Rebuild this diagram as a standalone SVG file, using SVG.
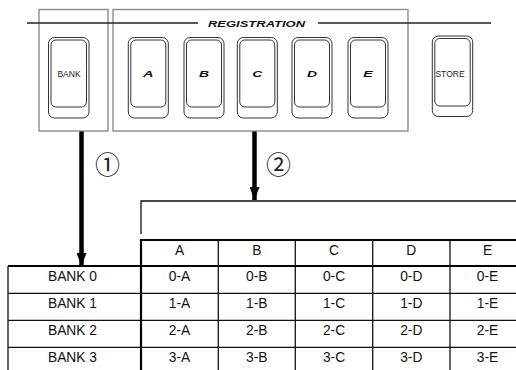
<svg xmlns="http://www.w3.org/2000/svg" width="516" height="370" viewBox="0 0 516 370">
<style>
  .panel{fill:none;stroke:#8c8c8c;stroke-width:1.4}
  .btn-o{fill:#fff;stroke:#333;stroke-width:1}
  .btn-i{fill:none;stroke:#333;stroke-width:1}
  .lbl{font-family:"Liberation Sans",Arial,sans-serif;font-size:8.5px;fill:#222;text-anchor:middle}
  .key{font-family:"Liberation Sans",Arial,sans-serif;font-size:9px;font-weight:bold;font-style:italic;fill:#111;text-anchor:middle}
  .cell{font-family:"Liberation Sans",Arial,sans-serif;font-size:13.8px;fill:#111;text-anchor:middle}
  .thin{stroke:#111;stroke-width:1.3;fill:none}
  .thick{stroke:#000;stroke-width:2.2;fill:none}
  .num{font-family:"Noto Sans CJK JP","DejaVu Sans",sans-serif;font-size:25px;fill:#222;text-anchor:middle}
</style>
<defs>
  <marker id="ah" viewBox="0 0 13 10" refX="13" refY="5" markerUnits="userSpaceOnUse" markerWidth="13" markerHeight="10" orient="auto">
    <path d="M0,0 L13,5 L0,10 Z" fill="#000"/>
  </marker>
</defs>

<g id="panels">
  <rect class="panel" x="39" y="9.5" width="69" height="121.5"/>
  <rect class="panel" x="113" y="9.5" width="295" height="121.5"/>
  <line x1="27" y1="23" x2="198" y2="23" stroke="#222" stroke-width="1.3"/>
  <line x1="318" y1="23" x2="491" y2="23" stroke="#222" stroke-width="1.3"/>
  <text x="256.5" y="26.5" font-family="'Liberation Sans',Arial,sans-serif" font-size="8.5" font-weight="bold" font-style="italic" fill="#111" text-anchor="middle" textLength="97" lengthAdjust="spacingAndGlyphs">REGISTRATION</text>
</g>

<g id="btn-bank">
  <rect class="btn-o" x="48.5" y="37.5" width="40.5" height="80.5" rx="6"/>
  <rect class="btn-i" x="51" y="40" width="35.5" height="67" rx="5"/>
  <text class="lbl" x="69" y="77">BANK</text>
</g>
<g id="btn-a">
  <rect class="btn-o" x="128.3" y="37.5" width="40" height="80.5" rx="6"/>
  <rect class="btn-i" x="130.8" y="40" width="35" height="67" rx="5"/>
  <text class="key" x="148.3" y="77" textLength="10.5" lengthAdjust="spacingAndGlyphs">A</text>
</g>
<g id="btn-b">
  <rect class="btn-o" x="184" y="37.5" width="40" height="80.5" rx="6"/>
  <rect class="btn-i" x="186.5" y="40" width="35" height="67" rx="5"/>
  <text class="key" x="204" y="77" textLength="10" lengthAdjust="spacingAndGlyphs">B</text>
</g>
<g id="btn-c">
  <rect class="btn-o" x="237.3" y="37.5" width="40" height="80.5" rx="6"/>
  <rect class="btn-i" x="239.8" y="40" width="35" height="67" rx="5"/>
  <text class="key" x="257.3" y="77" textLength="10" lengthAdjust="spacingAndGlyphs">C</text>
</g>
<g id="btn-d">
  <rect class="btn-o" x="292" y="37.5" width="40" height="80.5" rx="6"/>
  <rect class="btn-i" x="294.5" y="40" width="35" height="67" rx="5"/>
  <text class="key" x="312" y="77" textLength="10" lengthAdjust="spacingAndGlyphs">D</text>
</g>
<g id="btn-e">
  <rect class="btn-o" x="348" y="37.5" width="40" height="80.5" rx="6"/>
  <rect class="btn-i" x="350.5" y="40" width="35" height="67" rx="5"/>
  <text class="key" x="368" y="77" textLength="9.5" lengthAdjust="spacingAndGlyphs">E</text>
</g>
<g id="btn-store">
  <rect class="btn-o" x="432.3" y="36" width="40.4" height="80.5" rx="6"/>
  <rect class="btn-i" x="434.8" y="38.5" width="35.4" height="67.5" rx="5"/>
  <text class="lbl" x="450" y="76.5">STORE</text>
</g>

<g id="connectors">
  <line x1="81.5" y1="131.5" x2="81.5" y2="266" stroke="#000" stroke-width="4.5" marker-end="url(#ah)"/>
  <line x1="254.5" y1="131.5" x2="254.5" y2="200" stroke="#000" stroke-width="4.5" marker-end="url(#ah)"/>
</g>

<g id="step1"><text class="num" x="107.5" y="174">①</text></g>
<g id="step2"><text class="num" x="278.5" y="174">②</text></g>

<g id="table">
  <path class="thin" d="M141,234 V201 H516"/>
  <line class="thick" x1="141" y1="240" x2="516" y2="240"/>
  <line class="thick" x1="8" y1="266" x2="516" y2="266"/>
  <line class="thick" x1="141" y1="239" x2="141" y2="370"/>
  <line class="thin" x1="8" y1="266" x2="8" y2="370"/>
  <line class="thin" x1="8" y1="293.3" x2="516" y2="293.3"/>
  <line class="thin" x1="8" y1="320.3" x2="516" y2="320.3"/>
  <line class="thin" x1="8" y1="347.3" x2="516" y2="347.3"/>
  <line class="thin" x1="218.3" y1="240" x2="218.3" y2="370"/>
  <line class="thin" x1="295.3" y1="240" x2="295.3" y2="370"/>
  <line class="thin" x1="372.7" y1="240" x2="372.7" y2="370"/>
  <line class="thin" x1="450" y1="240" x2="450" y2="370"/>

  <text class="cell" x="179.5" y="255">A</text>
  <text class="cell" x="256.8" y="255">B</text>
  <text class="cell" x="334" y="255">C</text>
  <text class="cell" x="411.3" y="255">D</text>
  <text class="cell" x="487.5" y="255">E</text>

  <text class="cell" x="72.5" y="281">BANK 0</text>
  <text class="cell" x="179.5" y="281">0-A</text>
  <text class="cell" x="256.8" y="281">0-B</text>
  <text class="cell" x="334" y="281">0-C</text>
  <text class="cell" x="411.3" y="281">0-D</text>
  <text class="cell" x="487.5" y="281">0-E</text>

  <text class="cell" x="72.5" y="308.3">BANK 1</text>
  <text class="cell" x="179.5" y="308.3">1-A</text>
  <text class="cell" x="256.8" y="308.3">1-B</text>
  <text class="cell" x="334" y="308.3">1-C</text>
  <text class="cell" x="411.3" y="308.3">1-D</text>
  <text class="cell" x="487.5" y="308.3">1-E</text>

  <text class="cell" x="72.5" y="335.3">BANK 2</text>
  <text class="cell" x="179.5" y="335.3">2-A</text>
  <text class="cell" x="256.8" y="335.3">2-B</text>
  <text class="cell" x="334" y="335.3">2-C</text>
  <text class="cell" x="411.3" y="335.3">2-D</text>
  <text class="cell" x="487.5" y="335.3">2-E</text>

  <text class="cell" x="72.5" y="362.3">BANK 3</text>
  <text class="cell" x="179.5" y="362.3">3-A</text>
  <text class="cell" x="256.8" y="362.3">3-B</text>
  <text class="cell" x="334" y="362.3">3-C</text>
  <text class="cell" x="411.3" y="362.3">3-D</text>
  <text class="cell" x="487.5" y="362.3">3-E</text>
</g>
</svg>
